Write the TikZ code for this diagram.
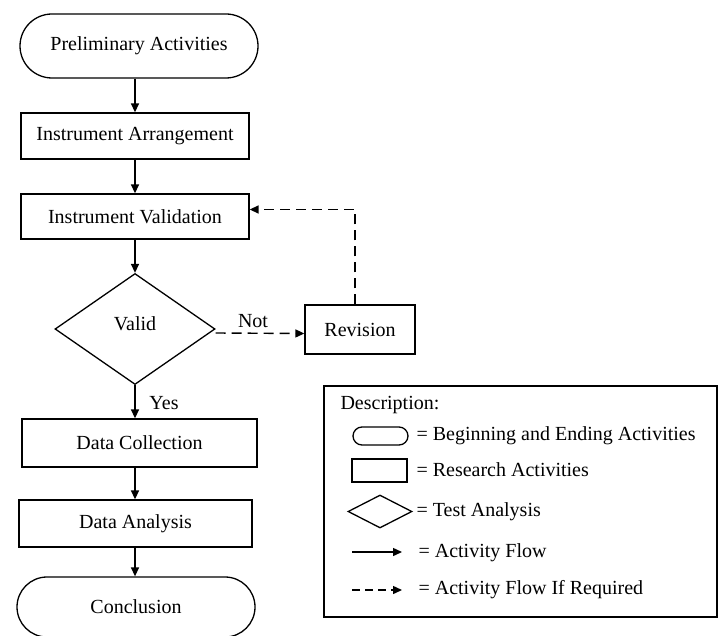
\documentclass[tikz,border=0pt]{standalone}
\usepackage{fontspec}
\setmainfont{Liberation Serif}
\usepackage{tikz}
\usetikzlibrary{arrows.meta}
\usetikzlibrary{shapes.misc, shapes.geometric, positioning}

\tikzset{
	terminal/.style={rounded rectangle, draw, line width=1.3pt, inner sep=0pt},
	activity/.style={rectangle, draw, line width=1.3pt, inner sep=0pt},
	decision/.style={diamond, draw, line width=1.3pt, inner sep=0pt},
	flow/.style={line width=1.4pt, -{Triangle[length=9pt, width=8pt]}},
	flowif/.style={flow, dash pattern=on 10pt off 6pt},
}

\begin{document}
\begin{tikzpicture}[x=1pt, y=-1pt, font=\fontsize{20pt}{23pt}\selectfont]
				\useasboundingbox [fill=white] (0,0) rectangle (719,636);
				
				% main chain
				\node [terminal, minimum width=238pt, minimum height=64pt] (prelim) at (139,46) {Preliminary Activities};
				\node [activity, minimum width=228pt, minimum height=46pt] (arrange) at (135,136) {Instrument Arrangement};
				\node [activity, minimum width=228pt, minimum height=45pt] (validate) at (135,216.5) {Instrument Validation};
				\node [decision, minimum width=160pt, minimum height=111pt] (valid) at (135,329) {\raisebox{11pt}{Valid}};
				\node [activity, minimum width=110pt, minimum height=49pt] (revision) at (360,329.5) {Revision};
				\node [activity, minimum width=235pt, minimum height=48pt] (collect) at (139.5,443) {Data Collection};
				\node [activity, minimum width=233pt, minimum height=47pt] (analyse) at (135.5,523.5) {Data Analysis};
				\node [terminal, minimum width=238pt, minimum height=60pt] (concl) at (136,607) {Conclusion};
				
				\draw [flow] (prelim.south -| validate.north) -- (arrange.north -| validate.north);
				\draw [flow] (arrange.south -| validate.north) -- (validate.north);
				\draw [flow] (validate.south) -- (valid.north);
				\draw [flow] (valid.south) -- (collect.north -| valid.south);
				\draw [flow] (collect.south -| valid.south) -- (analyse.north -| valid.south);
				\draw [flow] (analyse.south -| valid.south) -- (concl.north -| valid.south);
				
				\draw [flowif] ([yshift=-4pt]valid.east) -- ([yshift=-4pt]revision.west);
				\draw [flowif] ([xshift=-5pt]revision.north) |- ([yshift=7pt]validate.east);
				
				\node [anchor=base] (notlbl) at (253,327) {Not};
				\node [anchor=base] (yeslbl) at (164,409) {Yes};
				
				% % % % % % % % % % % % % % % % % % % % % % % % % %
				% legend
				\node [draw, line width=1.3pt, minimum width=393pt, minimum height=231pt] (legend) at (520.5,501.5) {};
				\node [anchor=west] (desc) at (337,405) {Description:};
				
				\node [terminal, minimum width=55pt, minimum height=18pt] (lterm) at (380.5,436) {};
				\node [activity, minimum width=55pt, minimum height=23pt] (lact) at (379.5,470.5) {};
				\node [decision, minimum width=64pt, minimum height=33pt] (ldec) at (380,511.5) {};
				\coordinate (lflowa) at (352,552);
				\coordinate (lflowb) at (402,552);
				\coordinate (lifa) at (352,590);
				\coordinate (lifb) at (402,590);
				\draw [flow] (lflowa) -- (lflowb);
				\draw [flowif, dash pattern=on 8pt off 5pt] (lifa) -- (lifb);
				
				\node [anchor=west] (tterm) at (413,436) {= Beginning and Ending Activities};
				\node [anchor=west] (tact) at (413,470) {= Research Activities};
				\node [anchor=west] (tdec) at (413,512) {= Test Analysis};
				\node [anchor=west] (tflow) at (415,553) {= Activity Flow};
				\node [anchor=west] (tif) at (415,590) {= Activity Flow If Required};
\end{tikzpicture}
\end{document}
